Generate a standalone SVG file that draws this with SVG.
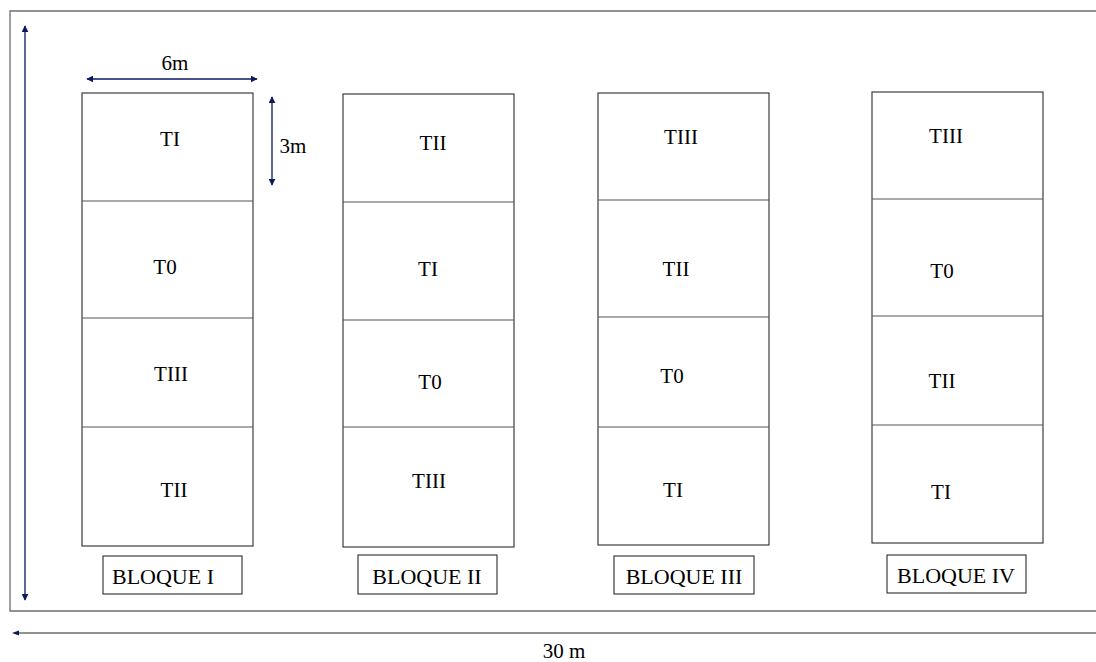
<svg xmlns="http://www.w3.org/2000/svg" width="1096" height="662" viewBox="0 0 1096 662" font-family="'Liberation Serif', 'DejaVu Serif', serif">
<defs>
<style>
.frame{fill:none;stroke:#6e6e6e;stroke-width:1.3}
.plot{fill:#fff;stroke:#2a2a2a;stroke-width:1.1}
.div{stroke:#555;stroke-width:1.2}
.lbl{fill:#fff;stroke:#2a2a2a;stroke-width:1.1}
.dim{stroke:#0a1a5c;stroke-width:1.3;fill:none}
.gray{stroke:#6e6e6e;stroke-width:1.3;fill:none}
.t{fill:#000;font-size:21px;text-anchor:middle}
.b{font-size:22px}
</style>
<marker id="ah" viewBox="0 0 10 10" refX="9" refY="5" markerWidth="7" markerHeight="7" markerUnits="userSpaceOnUse" orient="auto-start-reverse">
<path d="M0,0 L10,5 L0,10 z" fill="#0a1a5c"/>
</marker>
</defs>
<rect width="1096" height="662" fill="#fff"/>
<path class="frame" d="M1097,11 H10 V611 H1097"/>

<g id="connectors">
<line class="dim" x1="25" y1="26" x2="25" y2="600" marker-start="url(#ah)" marker-end="url(#ah)"/>
<line class="dim" x1="87" y1="79" x2="257" y2="79" marker-start="url(#ah)" marker-end="url(#ah)"/>
<line class="dim" x1="272" y1="97" x2="272" y2="185" marker-start="url(#ah)" marker-end="url(#ah)"/>
<line class="gray" x1="14" y1="633" x2="1097" y2="633"/>
<path d="M12,633 L19,630.5 L19,635.5 z" fill="#0a1a5c"/>
</g>

<g id="dimension-labels" class="t">
<text x="175" y="70">6m</text>
<text x="293" y="153">3m</text>
<text x="564" y="658">30 m</text>
</g>

<g id="bloque-1" class="t">
<rect class="plot" x="82" y="93" width="171" height="453"/>
<line class="div" x1="82" y1="201" x2="253" y2="201"/>
<line class="div" x1="82" y1="318" x2="253" y2="318"/>
<line class="div" x1="82" y1="427" x2="253" y2="427"/>
<text x="170" y="146">TI</text>
<text x="165" y="274">T0</text>
<text x="171" y="381">TIII</text>
<text x="174" y="497">TII</text>
<rect class="lbl" x="103" y="556" width="139" height="38"/>
<text class="b" x="163" y="584">BLOQUE I</text>
</g>

<g id="bloque-2" class="t">
<rect class="plot" x="343" y="94" width="171" height="453"/>
<line class="div" x1="343" y1="202" x2="514" y2="202"/>
<line class="div" x1="343" y1="320" x2="514" y2="320"/>
<line class="div" x1="343" y1="427" x2="514" y2="427"/>
<text x="433" y="150">TII</text>
<text x="428" y="276">TI</text>
<text x="430" y="389">T0</text>
<text x="429" y="488">TIII</text>
<rect class="lbl" x="358" y="555" width="139" height="39"/>
<text class="b" x="427" y="584">BLOQUE II</text>
</g>

<g id="bloque-3" class="t">
<rect class="plot" x="598" y="93" width="171" height="452"/>
<line class="div" x1="598" y1="200" x2="769" y2="200"/>
<line class="div" x1="598" y1="317" x2="769" y2="317"/>
<line class="div" x1="598" y1="427" x2="769" y2="427"/>
<text x="681" y="144">TIII</text>
<text x="676" y="276">TII</text>
<text x="672" y="383">T0</text>
<text x="673" y="497">TI</text>
<rect class="lbl" x="614" y="556" width="140" height="38"/>
<text class="b" x="684" y="584">BLOQUE III</text>
</g>

<g id="bloque-4" class="t">
<rect class="plot" x="872" y="92" width="171" height="451"/>
<line class="div" x1="872" y1="199" x2="1043" y2="199"/>
<line class="div" x1="872" y1="316" x2="1043" y2="316"/>
<line class="div" x1="872" y1="425" x2="1043" y2="425"/>
<text x="946" y="143">TIII</text>
<text x="942" y="278">T0</text>
<text x="942" y="388">TII</text>
<text x="941" y="499">TI</text>
<rect class="lbl" x="887" y="555" width="139" height="38"/>
<text class="b" x="956" y="583">BLOQUE IV</text>
</g>
</svg>
